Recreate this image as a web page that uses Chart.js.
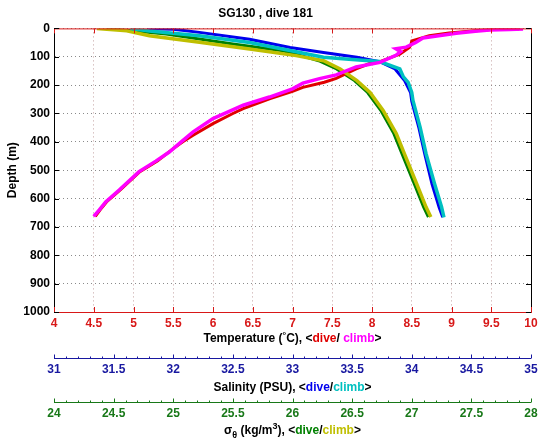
<!DOCTYPE html>
<html>
<head>
<meta charset="utf-8">
<script src="https://cdn.jsdelivr.net/npm/chart.js@4.4.1/dist/chart.umd.min.js"></script>
<style>
  body { margin: 0; background: #fff; }
</style>
</head>
<body>
<canvas id="profile" width="543" height="442"></canvas>
<script>
// tick labels
const depthTicks = [0, 100, 200, 300, 400, 500, 600, 700, 800, 900, 1000];
const tempTicks = [4, 4.5, 5, 5.5, 6, 6.5, 7, 7.5, 8, 8.5, 9, 9.5, 10];
const salTicks = [31, 31.5, 32, 32.5, 33, 33.5, 34, 34.5, 35];
const sigmaTicks = [24, 24.5, 25, 25.5, 26, 26.5, 27, 27.5, 28];

// temperature, dive / climb
const tempDiveDepth = [2, 4, 9, 16, 26, 44, 57, 67, 91, 117, 124, 143, 176, 190, 208, 222, 248, 283, 300, 336, 377, 400, 424, 468, 505, 570, 612, 640, 663];
const tempDive = [9.85, 9.5, 9.26, 8.97, 8.72, 8.50, 8.49, 8.47, 8.35, 8.10, 7.97, 7.80, 7.55, 7.40, 7.13, 7.00, 6.71, 6.38, 6.25, 6.00, 5.75, 5.62, 5.50, 5.30, 5.08, 4.83, 4.66, 4.58, 4.52];
const tempClimbDepth = [663, 640, 612, 570, 505, 468, 436, 400, 365, 318, 271, 242, 213, 193, 177, 164, 136, 120, 95, 82, 72, 66, 50, 34, 17, 10, 6, 4, 2];
const tempClimb = [4.50, 4.57, 4.65, 4.82, 5.07, 5.28, 5.45, 5.60, 5.75, 6.00, 6.38, 6.71, 7.00, 7.13, 7.34, 7.55, 7.80, 8.10, 8.30, 8.36, 8.30, 8.43, 8.55, 8.64, 9.06, 9.30, 9.48, 9.73, 9.90];

// salinity, dive / climb
const salDiveDepth = [1, 3, 14, 38, 67, 85, 102, 117, 143, 184, 226, 257, 351, 444, 549, 632, 666];
const salDive = [31.78, 32.0, 32.22, 32.64, 32.98, 33.26, 33.54, 33.73, 33.86, 33.94, 33.99, 34.0, 34.06, 34.11, 34.17, 34.23, 34.26];
const salClimbDepth = [0, 9, 26, 50, 80, 102, 110, 117, 143, 171, 190, 226, 254, 348, 442, 546, 630, 666];
const salClimb = [31.64, 31.8, 32.22, 32.64, 33.0, 33.26, 33.5, 33.73, 33.90, 33.93, 33.97, 34.0, 34.01, 34.07, 34.12, 34.19, 34.25, 34.27];

// sigma-theta, dive / climb
const sigDiveDepth = [0, 3, 20, 55, 79, 90, 114, 143, 184, 226, 289, 371, 454, 547, 630, 665];
const sigDive = [24.44, 24.52, 24.94, 25.50, 25.92, 26.02, 26.22, 26.37, 26.52, 26.63, 26.74, 26.85, 26.93, 27.02, 27.10, 27.14];
const sigClimbDepth = [0, 8, 26, 49, 73, 96, 114, 143, 184, 226, 289, 371, 454, 547, 630, 665];
const sigClimb = [24.36, 24.61, 24.80, 25.22, 25.64, 26.03, 26.26, 26.40, 26.54, 26.65, 26.76, 26.87, 26.95, 27.04, 27.12, 27.16];

const FONT = "'Liberation Sans', Arial, Helvetica, sans-serif";
const RED = '#d81818', BLUE = '#1818a0', GREEN = '#187818';

const pts = (xs, ds) => xs.map((v, i) => ({ x: v, y: ds[i] }));
const line = (data, color, w, axis) => ({
    data, xAxisID: axis, yAxisID: 'y', showLine: true,
    borderColor: color, backgroundColor: color, borderWidth: w,
    pointRadius: 0, tension: 0
});
const useTicks = arr => (s) => { s.ticks = arr.map(v => ({ value: v })); };
const plain = v => String(v);

// mixed-colour axis titles + matlab-ish tick marks
const decor = {
    id: 'decor',
    afterDraw(chart) {
        const { ctx, chartArea: a, scales } = chart;
        ctx.save();
        ctx.lineWidth = 1;
        // top and right box edges
        ctx.strokeStyle = RED;
        ctx.beginPath(); ctx.moveTo(a.left, a.top + 0.5); ctx.lineTo(a.right, a.top + 0.5); ctx.stroke();
        ctx.strokeStyle = '#000';
        ctx.beginPath(); ctx.moveTo(a.right + 0.5, a.top); ctx.lineTo(a.right + 0.5, a.bottom); ctx.stroke();
        // inner ticks
        ctx.strokeStyle = RED;
        scales.x.ticks.forEach(t => {
            const px = Math.round(scales.x.getPixelForValue(t.value)) + 0.5;
            ctx.beginPath();
            ctx.moveTo(px, a.bottom); ctx.lineTo(px, a.bottom - 5);
            ctx.moveTo(px, a.top); ctx.lineTo(px, a.top + 5);
            ctx.stroke();
        });
        ctx.strokeStyle = '#000';
        scales.y.ticks.forEach(t => {
            const py = Math.round(scales.y.getPixelForValue(t.value)) + 0.5;
            ctx.beginPath();
            ctx.moveTo(a.left, py); ctx.lineTo(a.left + 5, py);
            ctx.moveTo(a.right, py); ctx.lineTo(a.right - 5, py);
            ctx.stroke();
        });
        // secondary axes: line with ticks pointing up
        [['x2', BLUE], ['x3', GREEN]].forEach(([id, col]) => {
            const s = scales[id];
            const y0 = Math.round(s.top) + 0.5;
            ctx.strokeStyle = col;
            ctx.beginPath(); ctx.moveTo(s.left, y0); ctx.lineTo(s.right, y0); ctx.stroke();
            for (let k = 0; k <= Math.round((s.max - s.min) * 10); k++) {
                const v = s.min + k / 10;
                const px = Math.round(s.getPixelForValue(v)) + 0.5;
                const len = k % 5 === 0 ? 4 : 2;
                ctx.beginPath(); ctx.moveTo(px, y0); ctx.lineTo(px, y0 - len); ctx.stroke();
            }
        });
        // titles
        const cx = (a.left + a.right) / 2;
        const drawParts = (parts, y) => {
            let w = 0;
            parts.forEach(p => { ctx.font = `bold ${p.size || 12}px ${FONT}`; w += ctx.measureText(p.t).width; });
            let x = cx - w / 2;
            ctx.textBaseline = 'middle';
            ctx.textAlign = 'left';
            parts.forEach(p => {
                ctx.font = `bold ${p.size || 12}px ${FONT}`;
                ctx.fillStyle = p.c || '#000';
                ctx.fillText(p.t, x, y + (p.dy || 0));
                x += ctx.measureText(p.t).width;
            });
        };
        drawParts([{ t: 'Temperature (' }, { t: '°', size: 9, dy: -3 }, { t: 'C), <' }, { t: 'dive', c: '#e00000' },
                   { t: '/ ' }, { t: 'climb', c: '#ff00ff' }, { t: '>' }], scales.x.top + 27);
        drawParts([{ t: 'Salinity (PSU), <' }, { t: 'dive', c: '#0000ee' }, { t: '/' },
                   { t: 'climb', c: '#00c0c0' }, { t: '>' }], scales.x2.top + 30);
        drawParts([{ t: 'σ' }, { t: 'θ', size: 9, dy: 5 }, { t: ' (kg/m' }, { t: '3', size: 9, dy: -4 }, { t: '), <' },
                   { t: 'dive', c: '#008000' }, { t: '/' }, { t: 'climb', c: '#bfbf00' }, { t: '>' }], scales.x3.top + 29);
        ctx.restore();
    }
};

new Chart(document.getElementById('profile'), {
    type: 'scatter',
    data: {
        datasets: [
            line(pts(tempClimb, tempClimbDepth), '#ff00ff', 3.5, 'x'),
            line(pts(salClimb, salClimbDepth), '#00c0c0', 3.5, 'x2'),
            line(pts(sigClimb, sigClimbDepth), '#bfbf00', 3.5, 'x3'),
            line(pts(tempDive, tempDiveDepth), '#e00000', 3, 'x'),
            line(pts(salDive, salDiveDepth), '#0000ee', 3, 'x2'),
            line(pts(sigDive, sigDiveDepth), '#008000', 3, 'x3')
        ]
    },
    options: {
        responsive: false,
        animation: false,
        devicePixelRatio: 1,
        events: [],
        layout: { padding: { left: 0, right: 12, top: 0, bottom: 0 } },
        plugins: {
            legend: { display: false },
            tooltip: { enabled: false },
            title: {
                display: true, text: 'SG130 , dive 181', color: '#000',
                font: { family: FONT, size: 12, weight: 'bold' },
                padding: { top: 6, bottom: 8 }
            }
        },
        scales: {
            y: {
                type: 'linear', position: 'left', reverse: true, min: 0, max: 1000,
                afterBuildTicks: useTicks(depthTicks),
                afterFit: s => { s.width = 54; },
                ticks: { color: '#000', font: { family: FONT, size: 12, weight: 'bold' }, padding: 4, callback: plain },
                grid: { color: '#8a8a8a', drawTicks: false },
                border: { color: '#000', dash: [1, 3] },
                title: { display: true, text: 'Depth (m)', color: '#000',
                         font: { family: FONT, size: 12, weight: 'bold' }, padding: { top: 5, bottom: 0 } }
            },
            x: {
                type: 'linear', position: 'bottom', min: 4, max: 10, weight: 0,
                afterBuildTicks: useTicks(tempTicks),
                afterFit: s => { s.height = 46; },
                ticks: { color: RED, font: { family: FONT, size: 12, weight: 'bold' }, padding: 4, maxRotation: 0, autoSkip: false, callback: plain },
                grid: { color: 'rgba(175,130,130,0.75)', drawTicks: false },
                border: { color: RED, dash: [1, 3] }
            },
            x2: {
                type: 'linear', position: 'bottom', min: 31, max: 35, weight: 1,
                afterBuildTicks: useTicks(salTicks),
                afterFit: s => { s.height = 44; },
                ticks: { color: BLUE, font: { family: FONT, size: 12, weight: 'bold' }, padding: 4, maxRotation: 0, autoSkip: false, callback: plain },
                grid: { display: false, drawTicks: false },
                border: { display: false }
            },
            x3: {
                type: 'linear', position: 'bottom', min: 24, max: 28, weight: 2,
                afterBuildTicks: useTicks(sigmaTicks),
                afterFit: s => { s.height = 40; },
                ticks: { color: GREEN, font: { family: FONT, size: 12, weight: 'bold' }, padding: 4, maxRotation: 0, autoSkip: false, callback: plain },
                grid: { display: false, drawTicks: false },
                border: { display: false }
            }
        }
    },
    plugins: [decor]
});
</script>
</body>
</html>
